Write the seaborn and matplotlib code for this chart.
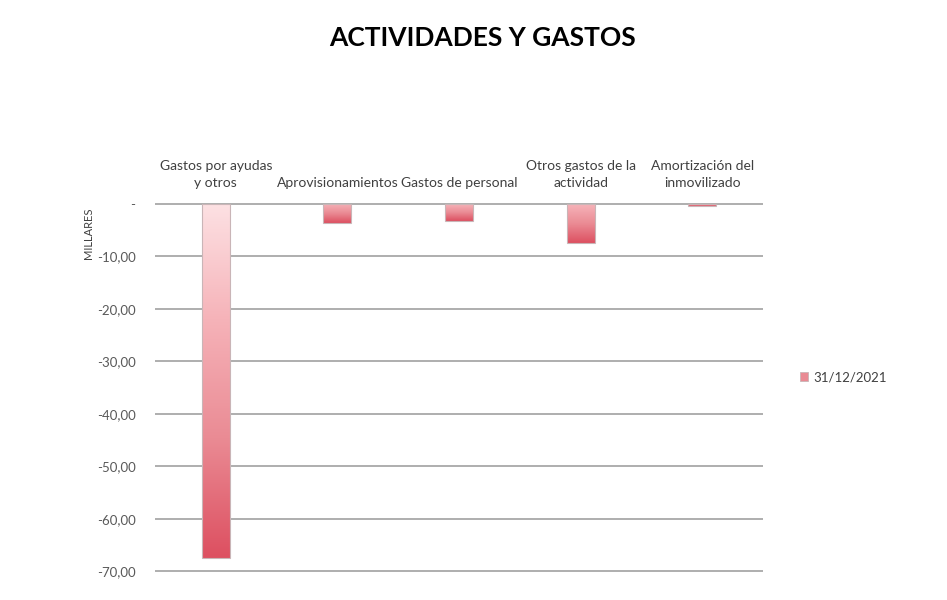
#!/usr/bin/env python3
"""Actividades y gastos - gradient bar chart"""

import numpy as np
import pandas as pd
import matplotlib
matplotlib.use("Agg")
import matplotlib.pyplot as plt
from matplotlib.colors import LinearSegmentedColormap
from matplotlib.patches import Patch
import seaborn as sns

# data (thousands of euros)
categories = [
    "Gastos por ayudas\ny otros",
    "Aprovisionamientos",
    "Gastos de personal",
    "Otros gastos de la\nactividad",
    "Amortización del\ninmovilizado",
]
values = [-67.5, -3.7, -3.2, -7.5, -0.5]
series_name = "31/12/2021"
y_ticks = [0, -10, -20, -30, -40, -50, -60, -70]
y_labels = ["-", "-10,00", "-20,00", "-30,00", "-40,00", "-50,00", "-60,00", "-70,00"]

sns.set_theme(style="white")
plt.rcParams["font.family"] = ["Lato", "DejaVu Sans"]

grad = LinearSegmentedColormap.from_list(
    "pinkred", ["#fde3e5", "#f6b3b9", "#ea8b94", "#dd5061"])

df = pd.DataFrame({"categoria": categories, "valor": values})

fig = plt.figure(figsize=(9.47, 6), dpi=100)
ax = fig.add_axes([155 / 947, 1 - 572 / 600, 608 / 947, 369 / 600])

sns.barplot(data=df, x="categoria", y="valor", color="#e98a93",
            width=0.23, ax=ax, zorder=2)

# swap the flat fill for a vertical gradient, clipped to each bar
for bar in ax.patches:
    x0, y0 = bar.get_x(), bar.get_y()
    w, h = bar.get_width(), bar.get_height()
    top, bottom = max(y0, y0 + h), min(y0, y0 + h)
    start = 0.35 * (1 - abs(h) / 70)  # short bars start a little pinker
    img = ax.imshow(np.linspace(start, 1, 256).reshape(-1, 1), cmap=grad,
                    vmin=0, vmax=1, aspect="auto",
                    extent=[x0, x0 + w, bottom, top],
                    origin="upper", zorder=3)
    img.set_clip_path(bar)
    bar.set_facecolor("none")
    bar.set_edgecolor("#c9b5b7")
    bar.set_linewidth(0.8)
    bar.set_zorder(4)

ax.set_xlim(-0.5, len(categories) - 0.5)
ax.set_ylim(-70.15, 0.15)
ax.set_yticks(y_ticks)
ax.set_yticklabels(y_labels, fontsize=9.5, color="#595959")
ax.tick_params(axis="y", length=0, pad=14)

ax.xaxis.tick_top()
ax.set_xticks(range(len(categories)))
ax.set_xticklabels(categories, fontsize=10, color="#404040", linespacing=1.55)
ax.tick_params(axis="x", length=0, pad=10)
ax.set_xlabel("")
ax.set_ylabel("")

ax.grid(axis="y", color="#a8a8a8", linewidth=1.3)
ax.set_axisbelow(True)
for s in ax.spines.values():
    s.set_visible(False)

fig.text(88 / 947, 1 - 233 / 600, "MILLARES", rotation=90, fontsize=8,
         color="#404040", ha="center", va="center")

fig.suptitle("ACTIVIDADES Y GASTOS", x=483 / 947, y=1 - 38 / 600,
             fontsize=19, fontweight="bold", color="black", va="center")

handle = Patch(facecolor="#e98a93", edgecolor="#c9b5b7", linewidth=0.6)
fig.legend([handle], [series_name], loc="center left",
           bbox_to_anchor=(788 / 947, 1 - 377 / 600), frameon=False,
           fontsize=9.5, handlelength=0.6, handleheight=0.6,
           handletextpad=0.4, labelcolor="#404040")

fig.savefig("out.png", dpi=100)
